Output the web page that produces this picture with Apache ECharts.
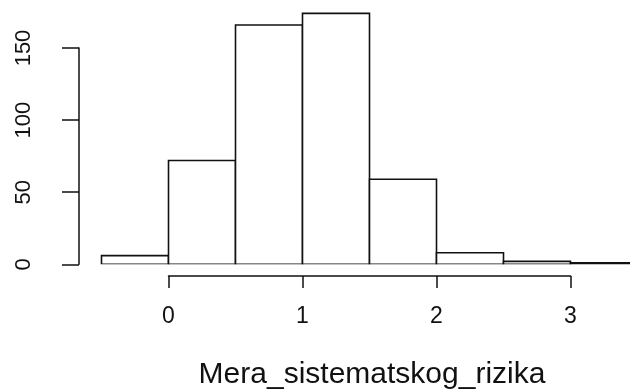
<!DOCTYPE html>
<html>
<head>
<meta charset="utf-8">
<script src="https://cdn.jsdelivr.net/npm/echarts@6/dist/echarts.min.js"></script>
<style>
html,body{margin:0;padding:0;background:#fff;}
#c{width:630px;height:389px;}
</style>
</head>
<body>
<div id="c"></div>
<script>
const binStarts = [-0.5, 0, 0.5, 1, 1.5, 2, 2.5, 3];
const binEnds = [0, 0.5, 1, 1.5, 2, 2.5, 3, 3.5];
const counts = [6, 72, 166, 174, 59, 8, 2, 1];
const xTickMin = 0, xTickMax = 3, xTickStep = 1;
const yTickMin = 0, yTickMax = 150, yTickStep = 50;
const xLabel = 'Mera_sistematskog_rizika';

const FONT = 'Liberation Sans, Arial, sans-serif';
// pixel scale
const x0px = 168.5, pxPerX = 134;
const y0px = 264.3, pxPerY = 1.442;
const mainMinX = -0.55;
const mainLeft = x0px + mainMinX * pxPerX;
const mainMaxX = (630 - mainLeft) / pxPerX + mainMinX;
const mainMaxY = 180;
const mainTop = y0px - mainMaxY * pxPerY;

const chart = echarts.init(document.getElementById('c'), null, {renderer: 'canvas'});
const histData = counts.map((c, i) => [binStarts[i], binEnds[i], c]);

chart.setOption({
  animation: false,
  backgroundColor: '#fff',
  textStyle: {fontFamily: FONT},
  title: {
    text: xLabel,
    left: 367, top: 355, textAlign: 'center',
    textStyle: {fontFamily: FONT, fontSize: 30, fontWeight: 'normal', color: '#111'}
  },
  grid: [
    {left: mainLeft, width: 630 - mainLeft, top: mainTop, height: y0px - mainTop},
    {left: x0px, width: (xTickMax - xTickMin) * pxPerX, top: 270, bottom: 389 - 276},
    {left: 79, width: 10, top: y0px - yTickMax * pxPerY, height: yTickMax * pxPerY}
  ],
  xAxis: [
    {gridIndex: 0, type: 'value', min: mainMinX, max: mainMaxX, show: false},
    {gridIndex: 1, type: 'value', min: xTickMin, max: xTickMax, interval: xTickStep,
     axisLine: {show: true, lineStyle: {color: '#111', width: 1.5}},
     axisTick: {show: true, length: 12, lineStyle: {color: '#111', width: 1.5}},
     axisLabel: {show: true, margin: 29, fontSize: 23, color: '#111', fontFamily: FONT},
     splitLine: {show: false}},
    {gridIndex: 2, type: 'value', min: 0, max: 1, show: false}
  ],
  yAxis: [
    {gridIndex: 0, type: 'value', min: 0, max: mainMaxY, show: false},
    {gridIndex: 1, type: 'value', min: 0, max: 1, show: false},
    {gridIndex: 2, type: 'value', min: yTickMin, max: yTickMax, interval: yTickStep, position: 'left',
     axisLine: {show: true, lineStyle: {color: '#111', width: 1.5}},
     axisTick: {show: true, length: 17, lineStyle: {color: '#111', width: 1.5}},
     axisLabel: {show: true, rotate: 90, margin: 44, fontSize: 22, color: '#111', fontFamily: FONT},
     splitLine: {show: false}}
  ],
  series: [{
    type: 'custom',
    xAxisIndex: 0, yAxisIndex: 0,
    clip: true,
    data: histData,
    encode: {x: [0, 1], y: 2},
    renderItem: function (params, api) {
      const p1 = api.coord([api.value(0), api.value(2)]);
      const p2 = api.coord([api.value(1), 0]);
      return {
        type: 'rect',
        shape: {x: p1[0], y: p1[1], width: p2[0] - p1[0], height: p2[1] - p1[1]},
        style: {fill: '#fff', stroke: '#111', lineWidth: 1.6}
      };
    }
  }]
});
</script>
</body>
</html>
